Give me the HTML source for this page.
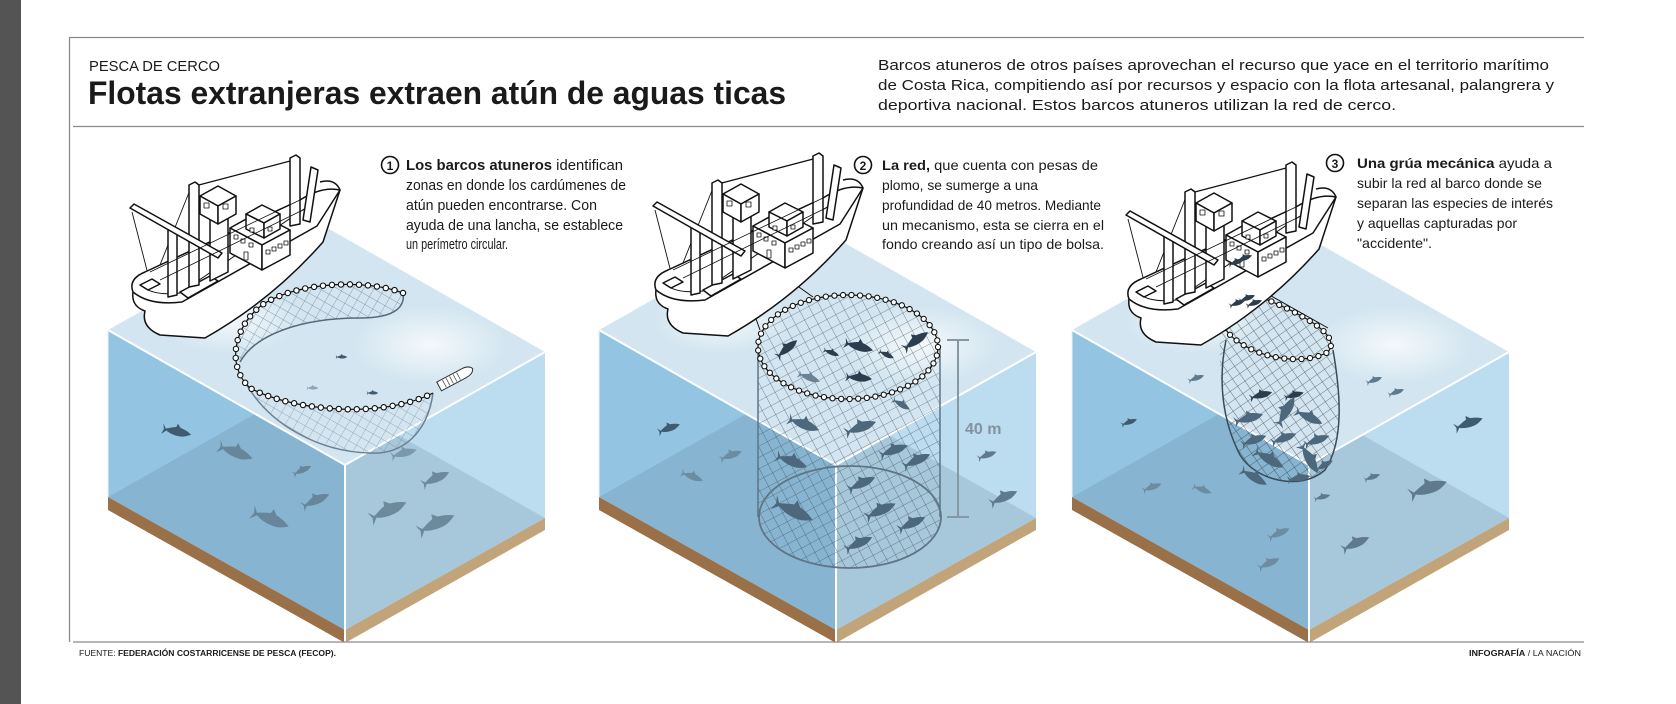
<!DOCTYPE html>
<html><head><meta charset="utf-8">
<style>
html,body{margin:0;padding:0;background:#fff;}
svg{display:block;}
.t{font-family:"Liberation Sans",Arial,sans-serif;fill:#1a1a1a;}
.n{font-family:"Liberation Sans Narrow","Liberation Sans",sans-serif;fill:#1a1a1a;}
</style></head><body>
<svg width="1676" height="704" viewBox="0 0 1676 704" xmlns="http://www.w3.org/2000/svg">
<defs>
  <path id="f" d="M-14,-1 L-18,-6 L-16,0 L-18,6 L-13,1 C-8,4 0,5 6,4 C10,3 13,1 15,0 C12,-2 8,-4 2,-5 L-2,-9 L-3,-5 C-7,-4 -11,-2 -14,-1 Z"/>
  <pattern id="net1" width="9" height="9" patternUnits="userSpaceOnUse" patternTransform="rotate(30)">
    <path d="M0,0 H9 M0,0 V9" stroke="#6f8494" stroke-width="0.7" fill="none"/>
  </pattern>
  <pattern id="net2" width="10" height="10" patternUnits="userSpaceOnUse" patternTransform="rotate(-28)">
    <path d="M0,0 H10 M0,0 V10" stroke="#34434f" stroke-width="0.8" fill="none"/>
  </pattern>
  <pattern id="net3" width="9" height="9" patternUnits="userSpaceOnUse" patternTransform="rotate(-35)">
    <path d="M0,0 H9 M0,0 V9" stroke="#222" stroke-width="0.8" fill="none"/>
  </pattern>
  <radialGradient id="hl" cx="0.5" cy="0.5" r="0.5">
    <stop offset="0" stop-color="#fff" stop-opacity="0.75"/>
    <stop offset="1" stop-color="#fff" stop-opacity="0"/>
  </radialGradient>
  <g id="cube">
    <polygon points="108,330 345,465 345,630 108,497" fill="#93c5e3"/>
    <polygon points="345,465 545,352 545,518 345,630" fill="#bcdcef"/>
    <polygon points="108,497 308,384 545,518 345,630" fill="#5f7f90" opacity="0.22"/>
    <polygon points="108,330 308,217 545,352 345,465" fill="#d2e5f0"/>
    <ellipse cx="230" cy="320" rx="70" ry="35" fill="url(#hl)"/>
    <ellipse cx="430" cy="345" rx="80" ry="40" fill="url(#hl)"/>
    <polygon points="108,497 345,630 345,643 108,510" fill="#9a7049"/>
    <polygon points="345,630 545,518 545,530 345,643" fill="#c2a47a"/>
    <polyline points="108,330 345,465 545,352" fill="none" stroke="#fff" stroke-width="2"/>
    <line x1="345" y1="465" x2="345" y2="643" stroke="#fff" stroke-width="2"/>
    <line x1="108" y1="330" x2="108" y2="497" stroke="#e8f2f8" stroke-width="1"/>
  </g>
  <g id="boat" stroke="#111" stroke-width="1.5" stroke-linejoin="round" fill="#fff">
    <line x1="294" y1="160" x2="195" y2="186" stroke-width="1.3"/>
    <line x1="132" y1="212" x2="150" y2="282" stroke-width="0.9"/>
    <line x1="190" y1="190" x2="158" y2="270" stroke-width="0.9"/>
    <path d="M133,292 Q131,306 145,311 Q141,327 160,335 L205,338 Q272,300 323,242 L340,190 Z"/>
    <path d="M340,190 L317,226 L182,302 Q150,306 133,292 Q128,279 145,272 L300,200 Q322,186 340,190 Z"/>
    <path d="M310,205 L180,293 Q155,296 143,287" fill="none" stroke-width="1"/>
    <path d="M320,182 Q335,178 340,190" fill="none"/>
    <polygon points="140,285 152,279 160,284 148,290"/>
    <polygon points="180,292 210,276 218,281 188,298"/>
    <!-- tower -->
    <polygon points="210,212 228,203 228,272 210,281"/>
    <polygon points="200,196 218,186 236,196 218,206"/>
    <polygon points="200,196 218,206 218,224 200,214"/>
    <polygon points="218,206 236,196 236,214 218,224"/>
    <rect x="204" y="203" width="5" height="5" stroke-width="0.8"/>
    <rect x="223" y="204" width="5" height="5" stroke-width="0.8"/>
    <!-- house -->
    <polygon points="230,228 257,213 290,230 262,245"/>
    <polygon points="230,228 262,245 262,270 230,253"/>
    <polygon points="262,245 290,230 290,255 262,270"/>
    <polygon points="246,214 262,205 280,214 264,223"/>
    <polygon points="246,214 264,223 264,238 246,229"/>
    <polygon points="264,223 280,214 280,229 264,238"/>
    <g stroke-width="0.8">
      <rect x="234" y="235" width="4" height="4"/><rect x="241" y="239" width="4" height="4"/><rect x="249" y="243" width="4" height="4"/>
      <rect x="266" y="250" width="4" height="4"/><rect x="272" y="247" width="4" height="4"/><rect x="278" y="244" width="4" height="4"/><rect x="284" y="241" width="4" height="4"/>
      <rect x="250" y="228" width="4" height="4"/><rect x="268" y="227" width="4" height="4"/>
      <rect x="244" y="252" width="4" height="8"/>
    </g>
    <!-- masts -->
    <polygon points="290,158 296,155 300,158 300,224 290,226"/>
    <polygon points="189,185 195,182 199,185 199,285 189,287"/>
    <polygon points="168,230 173,227 177,230 177,295 168,297"/>
    <polygon points="130,208 134,204 222,253 218,258"/>
    <polygon points="303,220 311,167 318,170 310,222"/>
    <line x1="150" y1="272" x2="300" y2="200" stroke-width="0.8"/>
    <line x1="160" y1="280" x2="305" y2="209" stroke-width="0.8"/>
  </g>
</defs>

<!-- frame -->
<rect x="0" y="0" width="21" height="704" fill="#545454"/>
<line x1="69" y1="37.5" x2="1584" y2="37.5" stroke="#8a8a8a" stroke-width="1.3"/>
<line x1="69.5" y1="37" x2="69.5" y2="642" stroke="#8a8a8a" stroke-width="1.3"/>
<line x1="73" y1="126.5" x2="1584" y2="126.5" stroke="#8a8a8a" stroke-width="1.3"/>

<text class="t" x="89" y="71" font-size="15" textLength="131" lengthAdjust="spacingAndGlyphs">PESCA DE CERCO</text>
<text class="t" x="88" y="104" font-size="32" font-weight="bold" textLength="698" lengthAdjust="spacingAndGlyphs">Flotas extranjeras extraen atún de aguas ticas</text>
<g class="t" font-size="15">
<text x="878" y="70" textLength="671" lengthAdjust="spacingAndGlyphs">Barcos atuneros de otros países aprovechan el recurso que yace en el territorio marítimo</text>
<text x="878" y="90" textLength="676" lengthAdjust="spacingAndGlyphs">de Costa Rica, compitiendo así por recursos y espacio con la flota artesanal, palangrera y</text>
<text x="878" y="110" textLength="518" lengthAdjust="spacingAndGlyphs">deportiva nacional. Estos barcos atuneros utilizan la red de cerco.</text>
</g>

<!-- cubes -->
<use href="#cube"/>
<use href="#cube" transform="translate(491,0)"/>
<use href="#cube" transform="translate(964,0)"/>

<!-- bottom line -->
<line x1="73" y1="642" x2="1584" y2="642" stroke="#8a8a8a" stroke-width="1.3"/>
<text class="t" x="79" y="656" font-size="8" textLength="257" lengthAdjust="spacingAndGlyphs">FUENTE: <tspan font-weight="bold">FEDERACIÓN COSTARRICENSE DE PESCA (FECOP).</tspan></text>
<text class="t" x="1469" y="656" font-size="8" textLength="112" lengthAdjust="spacingAndGlyphs"><tspan font-weight="bold">INFOGRAFÍA</tspan>  / LA NACIÓN</text>

<!-- PANEL 1 fish -->
<g fill="#5f7a8d">
<use href="#f" transform="translate(178,432) rotate(12) scale(0.9)" fill="#3f5b70"/>
<use href="#f" transform="translate(237,453) rotate(20) scale(1.1)" opacity="0.8"/>
<use href="#f" transform="translate(303,470) rotate(-25) scale(0.6)" opacity="0.8"/>
<use href="#f" transform="translate(317,500) rotate(-25) scale(0.9)" opacity="0.8"/>
<use href="#f" transform="translate(272,520) rotate(22) scale(1.2)" opacity="0.8"/>
<use href="#f" transform="translate(437,478) rotate(-25) scale(0.9)" opacity="0.8"/>
<use href="#f" transform="translate(390,510) rotate(-25) scale(1.2)" opacity="0.8"/>
<use href="#f" transform="translate(438,523) rotate(-25) scale(1.2)" opacity="0.8"/>
<use href="#f" transform="translate(405,453) rotate(-15) scale(0.8)" opacity="0.6"/>
<use href="#f" transform="translate(342,357) scale(0.35)" fill="#3f5b70"/>
<use href="#f" transform="translate(313,388) scale(0.35)" opacity="0.6"/>
<use href="#f" transform="translate(373,393) scale(0.35)" fill="#3f5b70"/>
</g>
<!-- panel 1 net -->
<path d="M403,293 C370,280 300,280 262,305 C240,320 232,340 240,362 C255,335 300,318 360,318 C395,318 405,305 403,293 Z" fill="url(#net1)"/>
<path d="M403,293 C405,305 398,318 360,318 C300,318 255,335 240,362" fill="none" stroke="#56697a" stroke-width="1.5"/>
<path d="M247,385 C290,410 380,420 433,393 C428,430 405,455 370,453 C320,452 270,425 247,385 Z" fill="url(#net1)" opacity="0.8"/>
<path d="M433,393 C428,430 405,455 370,453 C320,452 270,425 247,385" fill="none" stroke="#6c8091" stroke-width="1.5"/>
<g fill="none">
<path d="M403,293 C370,280 300,280 262,305 C235,325 225,365 250,388 C290,410 380,420 433,393" stroke="#111" stroke-width="1.2"/>
<path d="M403,293 C370,280 300,280 262,305 C235,325 225,365 250,388 C290,410 380,420 433,393" stroke="#111" stroke-width="6.5" stroke-dasharray="0 9" stroke-linecap="round"/>
<path d="M403,293 C370,280 300,280 262,305 C235,325 225,365 250,388 C290,410 380,420 433,393" stroke="#fff" stroke-width="4.3" stroke-dasharray="0 9" stroke-linecap="round"/>
</g>
<!-- lancha -->
<g transform="translate(455,378) rotate(-28)">
<path d="M-18,-5 L10,-5 Q18,-5 20,0 Q18,5 10,5 L-18,5 Z" fill="#fff" stroke="#333" stroke-width="1"/>
<path d="M-12,-4 V4 M-8,-4 V4 M-4,-4 V4 M0,-4 V4 M4,-4 V4" stroke="#555" stroke-width="0.8"/>
</g>
<line x1="200" y1="300" x2="200" y2="330" stroke="#111" stroke-width="1"/>
<use href="#boat"/>

<!-- PANEL 2 -->
<g fill="#5f7a8d">
<use href="#f" transform="translate(670,428) rotate(-20) scale(0.7)" fill="#3f5b70"/>
<use href="#f" transform="translate(732,455) rotate(-20) scale(0.7)" opacity="0.7"/>
<use href="#f" transform="translate(693,477) rotate(20) scale(0.7)" opacity="0.7"/>
<use href="#f" transform="translate(988,455) rotate(-20) scale(0.6)"/>
<use href="#f" transform="translate(1005,497) rotate(-25) scale(0.9)"/>
</g>
<path d="M758,347 L758,517 A91,51 0 0 0 940,517 L940,347 A90,52 0 0 0 758,347 Z" fill="url(#net2)" opacity="0.75"/>
<ellipse cx="850" cy="517" rx="91" ry="51" fill="none" stroke="#5f7585" stroke-width="1.8"/>
<line x1="758" y1="347" x2="758" y2="517" stroke="#5f7585" stroke-width="1.5"/>
<line x1="940" y1="347" x2="940" y2="517" stroke="#5f7585" stroke-width="1.5"/>
<g fill="#4d687c">
<use href="#f" transform="translate(788,348) rotate(-40) scale(0.8)" fill="#2b3e4e"/>
<use href="#f" transform="translate(860,347) rotate(15) scale(0.9)" fill="#2b3e4e"/>
<use href="#f" transform="translate(832,353) rotate(20) scale(0.5)" fill="#2b3e4e"/>
<use href="#f" transform="translate(917,340) rotate(-35) scale(0.9)" fill="#2b3e4e"/>
<use href="#f" transform="translate(887,355) rotate(25) scale(0.5)" fill="#2b3e4e"/>
<use href="#f" transform="translate(810,378) rotate(20) scale(0.7)" fill="#6a8293"/>
<use href="#f" transform="translate(860,378) rotate(5) scale(0.8)" fill="#2b3e4e"/>
<use href="#f" transform="translate(902,405) rotate(30) scale(0.6)"/>
<use href="#f" transform="translate(805,425) rotate(20) scale(1)"/>
<use href="#f" transform="translate(862,427) rotate(-20) scale(1)"/>
<use href="#f" transform="translate(793,462) rotate(20) scale(1)"/>
<use href="#f" transform="translate(895,450) rotate(-20) scale(0.9)"/>
<use href="#f" transform="translate(918,460) rotate(-25) scale(0.9)"/>
<use href="#f" transform="translate(795,512) rotate(25) scale(1.3)"/>
<use href="#f" transform="translate(863,483) rotate(-25) scale(0.9)"/>
<use href="#f" transform="translate(882,510) rotate(-25) scale(1)"/>
<use href="#f" transform="translate(913,523) rotate(-25) scale(0.9)"/>
<use href="#f" transform="translate(860,543) rotate(-25) scale(0.9)"/>
</g>
<g fill="none">
<ellipse cx="848" cy="347" rx="90" ry="52" stroke="#111" stroke-width="1.2"/>
<ellipse cx="848" cy="347" rx="90" ry="52" stroke="#111" stroke-width="6.3" stroke-dasharray="0 8.6" stroke-linecap="round"/>
<ellipse cx="848" cy="347" rx="90" ry="52" stroke="#fff" stroke-width="4.2" stroke-dasharray="0 8.6" stroke-linecap="round"/>
</g>
<line x1="735" y1="260" x2="760" y2="330" stroke="#111" stroke-width="1"/>
<line x1="765" y1="263" x2="813" y2="297" stroke="#111" stroke-width="1"/>
<g stroke="#8797a3" stroke-width="2">
<line x1="958" y1="340" x2="958" y2="517"/>
<line x1="947" y1="340" x2="969" y2="340"/>
<line x1="947" y1="517" x2="969" y2="517"/>
</g>
<text x="965" y="434" font-family="Liberation Sans, sans-serif" font-weight="bold" font-size="16" fill="#8491a0">40 m</text>
<use href="#boat" transform="translate(523,-2)"/>

<!-- PANEL 3 -->
<g fill="#5f7a8d">
<use href="#f" transform="translate(1197,378) rotate(-20) scale(0.5)"/>
<use href="#f" transform="translate(1375,380) rotate(-20) scale(0.5)"/>
<use href="#f" transform="translate(1397,392) rotate(-20) scale(0.5)"/>
<use href="#f" transform="translate(1130,422) rotate(-20) scale(0.5)" fill="#3f5b70"/>
<use href="#f" transform="translate(1470,423) rotate(-20) scale(0.9)" fill="#3f5b70"/>
<use href="#f" transform="translate(1153,487) rotate(-20) scale(0.6)" opacity="0.7"/>
<use href="#f" transform="translate(1203,490) rotate(20) scale(0.6)" opacity="0.7"/>
<use href="#f" transform="translate(1373,477) rotate(-20) scale(0.5)"/>
<use href="#f" transform="translate(1323,497) rotate(-15) scale(0.5)"/>
<use href="#f" transform="translate(1430,488) rotate(-20) scale(1.2)"/>
<use href="#f" transform="translate(1280,533) rotate(-25) scale(0.7)" opacity="0.7"/>
<use href="#f" transform="translate(1357,543) rotate(-25) scale(0.9)"/>
<use href="#f" transform="translate(1270,563) rotate(-25) scale(0.7)" opacity="0.7"/>
</g>
<path d="M1222,300 C1240,288 1262,296 1292,311 C1322,326 1338,340 1333,350 C1340,390 1345,440 1325,470 C1300,492 1255,480 1240,455 C1222,420 1216,370 1222,300 Z" fill="url(#net3)" opacity="0.75"/>
<path d="M1226,340 C1218,380 1222,420 1240,455 C1255,480 1300,492 1325,470 C1345,440 1340,390 1333,350" fill="none" stroke="#3a4c5a" stroke-width="1.5"/>
<g fill="#4d687c">
<use href="#f" transform="translate(1262,395) rotate(-15) scale(0.7)" fill="#2b3e4e"/>
<use href="#f" transform="translate(1295,395) rotate(-15) scale(0.6)" fill="#2b3e4e"/>
<use href="#f" transform="translate(1287,410) rotate(-60) scale(1)"/>
<use href="#f" transform="translate(1250,418) rotate(-15) scale(0.9)"/>
<use href="#f" transform="translate(1310,418) rotate(25) scale(0.9)"/>
<use href="#f" transform="translate(1255,440) rotate(-20) scale(0.8)"/>
<use href="#f" transform="translate(1285,438) rotate(-20) scale(0.8)"/>
<use href="#f" transform="translate(1318,440) rotate(-20) scale(0.8)"/>
<use href="#f" transform="translate(1270,460) rotate(30) scale(1)"/>
<use href="#f" transform="translate(1310,460) rotate(60) scale(1)"/>
<use href="#f" transform="translate(1255,478) rotate(30) scale(0.9)"/>
<use href="#f" transform="translate(1300,478) rotate(-10) scale(0.7)"/>
<use href="#f" transform="translate(1325,465) rotate(-30) scale(0.6)"/>
</g>
<g fill="none">
<path d="M1222,300 C1240,288 1262,296 1292,311 C1322,326 1338,340 1328,352 C1305,365 1262,360 1236,340 C1222,330 1218,315 1222,300 Z" stroke="#111" stroke-width="1.2"/>
<path d="M1222,300 C1240,288 1262,296 1292,311 C1322,326 1338,340 1328,352 C1305,365 1262,360 1236,340 C1222,330 1218,315 1222,300 Z" stroke="#111" stroke-width="6.3" stroke-dasharray="0 8.6" stroke-linecap="round"/>
<path d="M1222,300 C1240,288 1262,296 1292,311 C1322,326 1338,340 1328,352 C1305,365 1262,360 1236,340 C1222,330 1218,315 1222,300 Z" stroke="#fff" stroke-width="4.2" stroke-dasharray="0 8.6" stroke-linecap="round"/>
</g>
<line x1="1212" y1="265" x2="1222" y2="300" stroke="#111" stroke-width="1"/>
<line x1="1218" y1="266" x2="1328" y2="328" stroke="#111" stroke-width="1"/>
<use href="#boat" transform="translate(996,7)"/>
<g fill="#2b3e4e">
<use href="#f" transform="translate(1238,303) rotate(-20) scale(0.5)"/>
<use href="#f" transform="translate(1248,298) rotate(-20) scale(0.5)"/>
<use href="#f" transform="translate(1255,303) rotate(-20) scale(0.5)"/>
<use href="#f" transform="translate(1237,262) rotate(-20) scale(0.5)"/>
<use href="#f" transform="translate(1245,258) rotate(-20) scale(0.5)"/>
</g>

<!-- step texts -->
<g font-size="15">
<circle cx="390" cy="165" r="8.5" fill="#fff" stroke="#111" stroke-width="1.6"/>
<text class="t" x="390" y="170" font-size="12" font-weight="bold" text-anchor="middle">1</text>
<text class="n" x="406" y="170" textLength="217" lengthAdjust="spacingAndGlyphs"><tspan font-weight="bold">Los barcos atuneros</tspan> identifican</text>
<text class="n" x="406" y="190" textLength="220" lengthAdjust="spacingAndGlyphs">zonas en donde los cardúmenes de</text>
<text class="n" x="406" y="210" textLength="191" lengthAdjust="spacingAndGlyphs">atún pueden encontrarse. Con</text>
<text class="n" x="406" y="230" textLength="217" lengthAdjust="spacingAndGlyphs">ayuda de una lancha, se establece</text>
<text class="n" x="406" y="249" textLength="102" lengthAdjust="spacingAndGlyphs">un perímetro circular.</text>

<circle cx="863" cy="165" r="8.5" fill="#fff" stroke="#111" stroke-width="1.6"/>
<text class="t" x="863" y="170" font-size="12" font-weight="bold" text-anchor="middle">2</text>
<text class="t" x="882" y="170" font-size="14" textLength="216" lengthAdjust="spacingAndGlyphs"><tspan font-weight="bold">La red,</tspan> que cuenta con pesas de</text>
<text class="t" x="882" y="190" font-size="14" textLength="156" lengthAdjust="spacingAndGlyphs">plomo, se sumerge a una</text>
<text class="t" x="882" y="210" font-size="14" textLength="219" lengthAdjust="spacingAndGlyphs">profundidad de  40 metros. Mediante</text>
<text class="t" x="882" y="230" font-size="14" textLength="222" lengthAdjust="spacingAndGlyphs">un mecanismo, esta se cierra en el</text>
<text class="t" x="882" y="249" font-size="14" textLength="222" lengthAdjust="spacingAndGlyphs">fondo creando así un tipo de bolsa.</text>

<circle cx="1335" cy="163" r="8.5" fill="#fff" stroke="#111" stroke-width="1.6"/>
<text class="t" x="1335" y="168" font-size="12" font-weight="bold" text-anchor="middle">3</text>
<text class="t" x="1357" y="168" font-size="14" textLength="195" lengthAdjust="spacingAndGlyphs"><tspan font-weight="bold">Una grúa mecánica</tspan> ayuda a</text>
<text class="t" x="1357" y="188" font-size="14" textLength="185" lengthAdjust="spacingAndGlyphs">subir la red al barco donde se</text>
<text class="t" x="1357" y="208" font-size="14" textLength="196" lengthAdjust="spacingAndGlyphs">separan las especies de interés</text>
<text class="t" x="1357" y="228" font-size="14" textLength="160" lengthAdjust="spacingAndGlyphs">y aquellas capturadas por</text>
<text class="t" x="1357" y="248" font-size="14" textLength="75" lengthAdjust="spacingAndGlyphs">"accidente".</text>
</g>
</svg>
</body></html>
